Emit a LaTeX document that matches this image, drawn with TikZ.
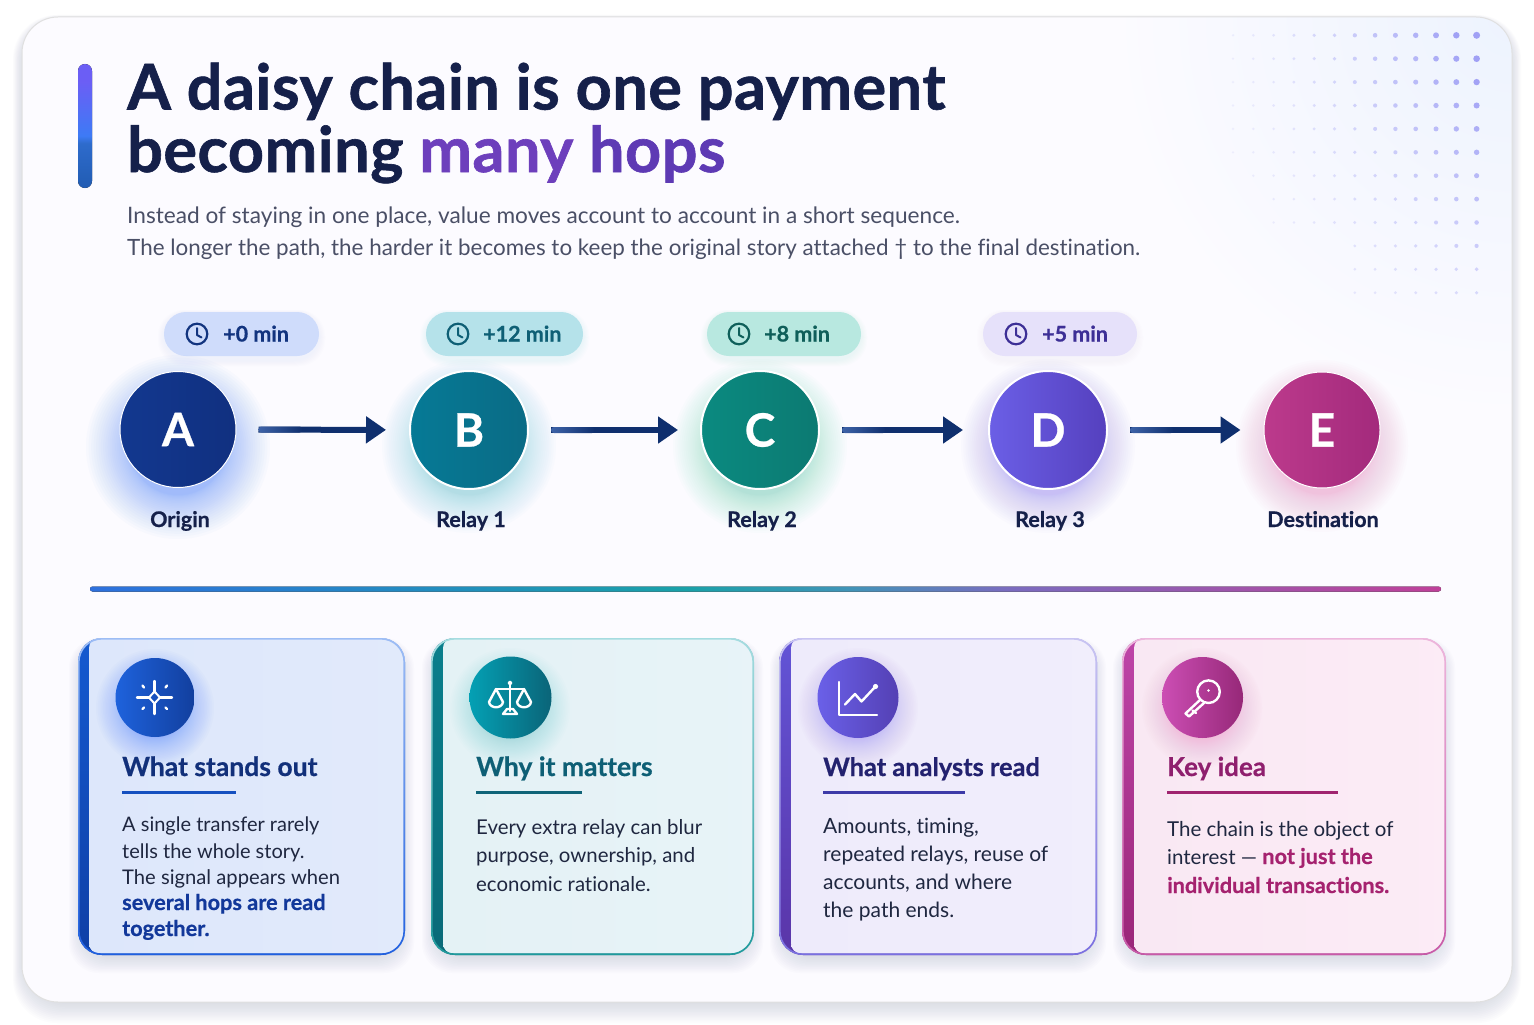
\documentclass[tikz,border=0pt]{standalone}
\usepackage{fontspec}
\setmainfont{Lato}[Ligatures=NoCommon,BoldFeatures={FakeBold=0.6}]
\newfontfamily\titlefont{Lato}[LetterSpace=0.75,Ligatures=NoCommon,BoldFeatures={FakeBold=1}]
\usetikzlibrary{arrows.meta,calc,shapes.geometric}
\definecolor{cardbg}{HTML}{FCFBFF}
\definecolor{cornerbg}{HTML}{EDF3FE}
\definecolor{ink}{HTML}{15204A}
\definecolor{sub}{HTML}{4A4F66}
\definecolor{body}{HTML}{1F2740}
\definecolor{arrowc}{HTML}{0F2F6E}
\definecolor{arrows}{HTML}{3E63A8}
\definecolor{dotc}{HTML}{9C9CF5}
\definecolor{HA1}{HTML}{12388F}\definecolor{HA2}{HTML}{113080}
\definecolor{HB1}{HTML}{067A96}\definecolor{HB2}{HTML}{0A6B85}
\definecolor{HC1}{HTML}{0B8A80}\definecolor{HC2}{HTML}{0C7A72}
\definecolor{HD1}{HTML}{6B5FE6}\definecolor{HD2}{HTML}{5540BE}
\definecolor{HE1}{HTML}{BC3A8C}\definecolor{HE2}{HTML}{A32A7C}
\definecolor{HI1}{HTML}{1E62DC}\definecolor{HI2}{HTML}{123F9E}
\definecolor{HJ1}{HTML}{04A0B4}\definecolor{HJ2}{HTML}{0A6478}
\definecolor{HK1}{HTML}{6A60E8}\definecolor{HK2}{HTML}{5440B4}
\definecolor{HL1}{HTML}{CC4EB4}\definecolor{HL2}{HTML}{962878}
\definecolor{T1}{HTML}{12307A}\definecolor{U1}{HTML}{1550C0}\definecolor{B1}{HTML}{12389A}
\definecolor{T2}{HTML}{0E5F75}\definecolor{U2}{HTML}{0F6478}
\definecolor{T3}{HTML}{23226F}\definecolor{U3}{HTML}{3D3AA8}
\definecolor{T4}{HTML}{8F1F6E}\definecolor{U4}{HTML}{A0246F}\definecolor{B4}{HTML}{A5226F}
\definecolor{F1a}{HTML}{155AD0}\definecolor{F1b}{HTML}{0F3FA6}\definecolor{F1c}{HTML}{DDE7FB}\definecolor{F1d}{HTML}{E2EAFB}
\definecolor{F2a}{HTML}{0A7F8C}\definecolor{F2b}{HTML}{0A6A78}\definecolor{F2c}{HTML}{E4F2F5}\definecolor{F2d}{HTML}{E8F3F8}
\definecolor{F3a}{HTML}{6254D6}\definecolor{F3b}{HTML}{5A35A8}\definecolor{F3c}{HTML}{EEEBFB}\definecolor{F3d}{HTML}{F1EEFC}
\definecolor{F4a}{HTML}{BE45A8}\definecolor{F4b}{HTML}{9A2678}\definecolor{F4c}{HTML}{F9E8F3}\definecolor{F4d}{HTML}{FCECF6}
\definecolor{E1a}{HTML}{9DBDF5}\definecolor{E1b}{HTML}{2060E0}
\definecolor{E2a}{HTML}{A5DCE0}\definecolor{E2b}{HTML}{1F9A9C}
\definecolor{E3a}{HTML}{C8C4F2}\definecolor{E3b}{HTML}{7A70E0}
\definecolor{E4a}{HTML}{EDB6DC}\definecolor{E4b}{HTML}{C85AA8}
\definecolor{ga}{HTML}{5F8FFA}\definecolor{gb}{HTML}{7FD0DC}\definecolor{gc}{HTML}{7FDCC0}\definecolor{gd}{HTML}{A89BF5}\definecolor{ge}{HTML}{F0A0CC}
\definecolor{tc1}{HTML}{12347F}\definecolor{tc2}{HTML}{0E5F75}\definecolor{tc3}{HTML}{0F5F5A}\definecolor{tc4}{HTML}{3D2F96}
\definecolor{ch1}{HTML}{CFDCFB}\definecolor{ch2}{HTML}{B5E2EA}\definecolor{ch3}{HTML}{B8E8E0}\definecolor{ch4}{HTML}{E6E1FA}
\definecolor{shadowc}{HTML}{6A7098}
\pgfdeclarehorizontalshading{divshade}{100bp}{rgb(0bp)=(0.18,0.44,0.87);rgb(25bp)=(0.18,0.44,0.87);rgb(47bp)=(0.10,0.63,0.66);rgb(53bp)=(0.25,0.58,0.72);rgb(59bp)=(0.48,0.42,0.75);rgb(75bp)=(0.75,0.25,0.60);rgb(100bp)=(0.75,0.25,0.60)}
\pgfdeclareverticalshading{barshade}{100bp}{rgb(0bp)=(0.13,0.36,0.70);rgb(25bp)=(0.13,0.36,0.70);rgb(43bp)=(0.18,0.42,0.80);rgb(46bp)=(0.24,0.48,0.96);rgb(68bp)=(0.42,0.37,0.96);rgb(100bp)=(0.42,0.37,0.96)}
\tikzset{
  x=1pt,y=-1pt,
  title/.style={anchor=base west,inner sep=0pt,font=\titlefont\fontsize{63}{63}\selectfont\bfseries,text=ink},
  subt/.style={anchor=base west,inner sep=0pt,text=sub},
  chip/.style={rounded corners=22pt,minimum height=44pt,inner sep=0pt},
  chiptext/.style={anchor=base west,inner sep=0pt,font=\fontsize{21.5}{22}\selectfont\bfseries},
  hop/.style={circle,inner sep=0pt,font=\fontsize{46}{46}\selectfont\bfseries,text=white},
  hoplabel/.style={anchor=base,inner sep=0pt,font=\fontsize{21.5}{22}\selectfont\bfseries,text=ink},
  link/.style={line width=6pt,color=arrowc,-{Triangle[length=20pt,width=26pt]},shorten <=22pt,shorten >=23pt},
  linkstart/.style={left color=arrows,right color=arrowc,rounded corners=2.9pt},
  cardtitle/.style={anchor=base west,inner sep=0pt},
  cardbody/.style={anchor=base west,inner sep=0pt,text=body},
  iconline/.style={draw=white,line width=2.4pt,line cap=round,line join=round},
}
\newcommand{\tsize}[1]{\fontsize{#1}{#1}\selectfont\bfseries}
\newcommand{\bsize}[1]{\fontsize{#1}{#1}\selectfont}
% glow: x y radius spread colour
\newcommand{\glow}[5]{%
  \foreach \gi in {0,...,25}{
    \fill[#5,opacity=0.028] (#1,#2) circle ({#3-10+#4*(1-\gi/25)^1.5});
  }%
}
% clock icon
\newcommand{\clockicon}[3]{%
  \draw[#3,line width=2.2pt] (#1,#2) circle (10.3);
  \draw[#3,line width=2pt,line cap=round,line join=round] (#1,#2-6) -- (#1,#2+1) -- (#1+4.5,#2+3.5);
}
% info card: x1 y1 x2 y2 barx bartop barbottom fill1 fill2
\newcommand{\infocard}[9]{%
  \foreach \gi in {0,...,11}{
    \fill[shadowc,opacity=0.016,rounded corners=30pt] (#1-9+\gi*1.2,#2+\gi*0.6) rectangle (#3+9-\gi*1.2,#4+18-\gi*1.4);
  }
  \begin{scope}
    \clip[rounded corners=24pt] (#1,#2) rectangle (#3,#4);
    \shade[top color=#6,bottom color=#7] (#1,#2) rectangle (#3,#4);
    \shade[left color=#8,right color=#9,rounded corners=10pt] (#5,#2) rectangle (#3+30,#4-1.5);
  \end{scope}
}
\newcommand{\cardedge}[6]{%
  \shade[top color=#5,bottom color=#6,even odd rule]
    [rounded corners=24pt] (#1,#2) rectangle (#3,#4)
    [rounded corners=22.4pt] (#1+1.6,#2+1.6) rectangle (#3-1.6,#4-1.6);
}
\begin{document}
\begin{tikzpicture}
\useasboundingbox (0,0) rectangle (1534,1025);
\fill[white] (0,0) rectangle (1534,1025);
% outer panel shadow
\foreach \gi in {0,...,13}{
  \fill[shadowc,opacity=0.016,rounded corners=44pt] (22-9+\gi*0.8,17-2+\gi*0.3) rectangle (1512+9-\gi*0.8,1002+21-\gi*1.6);
}
% panel
\begin{scope}
  \clip[rounded corners=36pt] (22,17) rectangle (1512,1002);
  \fill[cardbg] (22,17) rectangle (1512,1002);
  \shade[inner color=cornerbg,outer color=cardbg] (1512,17) circle (400);
  % dots
  \foreach \i in {0,...,12}{
    \foreach \j in {0,...,11}{
      \pgfmathsetmacro{\sa}{(\i+1)/13}
      \pgfmathsetmacro{\sb}{1-\j/15}
      \pgfmathsetmacro{\st}{\sa*\sa*0.55+\sa*0.45}
      \pgfmathsetmacro{\ss}{\st*\sb}
      \pgfmathparse{(\j>5 && \i<1) || (\j>6 && \i<2) || (\j>8 && \i<6) ? 0 : 1}
      \ifnum\pgfmathresult>0\relax
        \pgfmathsetmacro{\rr}{1.2+2.3*\ss}
        \pgfmathsetmacro{\oo}{min(0.95,0.1+0.95*\ss)}
        \fill[dotc,opacity=\oo] ({1233+\i*20.3},{35.3+\j*23.4}) circle (\rr);
      \fi
    }
  }
\end{scope}
\draw[black!12,line width=1pt,rounded corners=36pt] (22,17) rectangle (1512,1002);
% header
\fill[shading=barshade,rounded corners=7pt] (78,64) rectangle (92,188);
\node[title] (t1) at (127,109.5) {A daisy chain is one payment};
\node[title] (t2) at (127,172) {becoming \textcolor[HTML]{6D3FBC}{many} \textcolor[HTML]{5E3AB4}{hops}};
\node[subt,font=\bsize{22.65}] (s1) at (127,223) {Instead of staying in one place, value moves account to account in a short sequence.};
\node[subt,font=\bsize{22.42}] (s2) at (127,255) {The longer the path, the harder it becomes to keep the original story attached † to the final destination.};
% chips
\foreach \x/\w/\c/\n in {241.5/155/ch1/c1,504.5/157/ch2/c2,784/154/ch3/c3,1060/154/ch4/c4}{
  \foreach \gi in {0,...,5}{\fill[\c,opacity=0.04,rounded corners=26pt] (\x-\w/2-6+\gi,312-2+\gi*0.5) rectangle (\x+\w/2+6-\gi,356+10-\gi);}
  \node[chip,fill=\c,minimum width=\w pt] (\n) at (\x,334) {};
}
\clockicon{197}{334}{tc1}\clockicon{458}{334}{tc2}\clockicon{739}{334}{tc3}\clockicon{1016}{334}{tc4}
\node[chiptext,text=tc1] (c1t) at (223,341.5) {+0 min};
\node[chiptext,text=tc2] (c2t) at (483,341.5) {+12 min};
\node[chiptext,text=tc3] (c3t) at (764,341.5) {+8 min};
\node[chiptext,text=tc4] (c4t) at (1042,341.5) {+5 min};
% glows
\glow{178}{447}{58}{44}{ga}\glow{469}{446}{59}{38}{gb}\glow{760}{446}{59}{38}{gc}\glow{1048}{446}{59}{38}{gd}\glow{1322}{446}{58}{38}{ge}
% hops
\node[hop,minimum size=116pt,left color=HA1,right color=HA2,draw=white,line width=1pt] (A) at (178,429.5) {A};
\node[hop,minimum size=118pt,left color=HB1,right color=HB2,draw=white,line width=2pt] (B) at (469,430) {B};
\node[hop,minimum size=118pt,left color=HC1,right color=HC2,draw=white,line width=2pt] (C) at (760,430) {C};
\node[hop,minimum size=118pt,left color=HD1,right color=HD2,draw=white,line width=2pt] (D) at (1048,430) {D};
\node[hop,minimum size=116pt,left color=HE1,right color=HE2,draw=white,line width=1pt] (E) at (1322,430) {E};
\node[hoplabel] (la) at (180,527) {Origin};
\node[hoplabel] (lb) at (471,527) {Relay 1};
\node[hoplabel] (lc) at (762,527) {Relay 2};
\node[hoplabel] (ld) at (1050,527) {Relay 3};
\node[hoplabel] (le) at (1323,527) {Destination};
% links
\draw[link] (A) -- (B);
\draw[link,shorten <=22pt,shorten >=22pt] (B) -- (C);
\draw[link,shorten <=22pt,shorten >=25pt] (C) -- (D);
\draw[link,shorten <=22pt,shorten >=23pt] (D) -- (E);
\shade[linkstart] ($(A.east)+(22,-3)$) rectangle +(44,6);
\shade[linkstart] ($(B.east)+(22,-3)$) rectangle +(44,6);
\shade[linkstart] ($(C.east)+(22,-3)$) rectangle +(44,6);
\shade[linkstart] ($(D.east)+(22,-3)$) rectangle +(44,6);
% divider
\fill[shading=divshade,rounded corners=2.5pt] (90,586.5) rectangle (1441,591.5);
% cards
\infocard{78}{638}{405}{955}{89}{F1a}{F1b}{F1c}{F1d}
\infocard{431}{638}{754}{955}{443}{F2a}{F2b}{F2c}{F2d}
\infocard{779}{638}{1097}{955}{791}{F3a}{F3b}{F3c}{F3d}
\infocard{1122}{638}{1446}{955}{1134}{F4a}{F4b}{F4c}{F4d}
\cardedge{78}{638}{405}{955}{E1a}{E1b}
\cardedge{431}{638}{754}{955}{E2a}{E2b}
\cardedge{779}{638}{1097}{955}{E3a}{E3b}
\cardedge{1122}{638}{1446}{955}{E4a}{E4b}
% icon discs
\glow{155}{708}{39}{30}{ga}\glow{510}{708}{40}{30}{gb}\glow{858}{708}{40}{30}{gd}\glow{1202}{708}{40}{30}{ge}
\node[circle,minimum size=79pt,inner sep=0pt,left color=HI1,right color=HI2] (i1) at (155,697.5) {};
\node[circle,minimum size=82pt,inner sep=0pt,left color=HJ1,right color=HJ2] (i2) at (510.5,697.5) {};
\node[circle,minimum size=81pt,inner sep=0pt,left color=HK1,right color=HK2] (i3) at (858,697.5) {};
\node[circle,minimum size=81pt,inner sep=0pt,left color=HL1,right color=HL2] (i4) at (1202.5,697.5) {};
% sparkle
\draw[iconline,line width=2pt] (154.5,691.5) -- (160,697.5) -- (154.5,703.5) -- (149,697.5) -- cycle;
\draw[iconline] (154.5,681) -- (154.5,691.5) (154.5,703.5) -- (154.5,714) (137,697.5) -- (149,697.5) (160,697.5) -- (172,697.5);
\draw[iconline] (142.5,685.5) -- (144,687.5) (167,685.5) -- (165.5,687.5) (142.5,709) -- (144,707.5) (167,709) -- (165.5,707.5);
% scales
\draw[iconline] (510,684) -- (510,711) (496,689) -- (524,689);
\draw[iconline,line width=1.8pt] (510,683) circle (1.6);
\draw[iconline] (503,714) -- (507,709) -- (513,709) -- (517,714) -- cycle;
\draw[iconline] (496,689) -- (489,702) .. controls (490,709) and (502,709) .. (503,702) -- cycle;
\draw[iconline] (524,689) -- (517,702) .. controls (518,709) and (530,709) .. (531,702) -- cycle;
% chart
\draw[iconline] (839,682) -- (839,715) -- (877,715);
\draw[iconline] (845,704.5) -- (855,694) -- (861.5,701.5) -- (875,687);
\fill[white] (875.5,686.5) circle (2.6);
% key
\draw[iconline] (1208.5,691.7) circle (11.3);
\fill[white] (1208.5,690.5) circle (1.4);
\draw[iconline] (1200.5,699.5) -- (1185.5,713.5) -- (1189,716.5) -- (1204,703);
\draw[iconline] (1192.5,710.5) -- (1196,713);
% card 1 text
\node[cardtitle,text=T1,font=\tsize{26.5}] (h1) at (122,776) {What stands out};
\draw[U1,line width=3pt] (122,792) -- (236,792);
\node[cardbody,font=\bsize{20}] (b11) at (122,831) {A single transfer rarely};
\node[cardbody,font=\bsize{20}] (b12) at (122,858) {tells the whole story.};
\node[cardbody,font=\bsize{20.2}] (b13) at (122,884) {The signal appears when};
\node[cardbody,font=\tsize{21.7},text=B1] (b14) at (122,910) {several hops are read};
\node[cardbody,font=\tsize{21.7},text=B1] (b15) at (122,936) {together.};
% card 2 text
\node[cardtitle,text=T2,font=\tsize{26.5}] (h2) at (476,776) {Why it matters};
\draw[U2,line width=3pt] (476,792) -- (582,792);
\node[cardbody,font=\bsize{20.4}] (b21) at (476,834) {Every extra relay can blur};
\node[cardbody,font=\bsize{20.4}] (b22) at (476,862) {purpose, ownership, and};
\node[cardbody,font=\bsize{20.4}] (b23) at (476,891) {economic rationale.};
% card 3 text
\node[cardtitle,text=T3,font=\tsize{25.4}] (h3) at (823,776) {What analysts read};
\draw[U3,line width=3pt] (823,792) -- (965,792);
\node[cardbody,font=\bsize{21}] (b31) at (823,833) {Amounts, timing,};
\node[cardbody,font=\bsize{21}] (b32) at (823,861) {repeated relays, reuse of};
\node[cardbody,font=\bsize{21}] (b33) at (823,889) {accounts, and where};
\node[cardbody,font=\bsize{21}] (b34) at (823,917) {the path ends.};
% card 4 text
\node[cardtitle,text=T4,font=\tsize{26}] (h4) at (1167,776) {Key idea};
\draw[U4,line width=3pt] (1167,792) -- (1338,792);
\node[cardbody,font=\bsize{20.5}] (b41) at (1167,836) {The chain is the object of};
\node[cardbody,font=\bsize{20.5}] (b42) at (1167,864) {interest — \textcolor{B4}{\tsize{21.7}not just the}};
\node[cardbody,font=\tsize{21.7},text=B4] (b43) at (1167,893) {individual transactions.};
\end{tikzpicture}
\end{document}
